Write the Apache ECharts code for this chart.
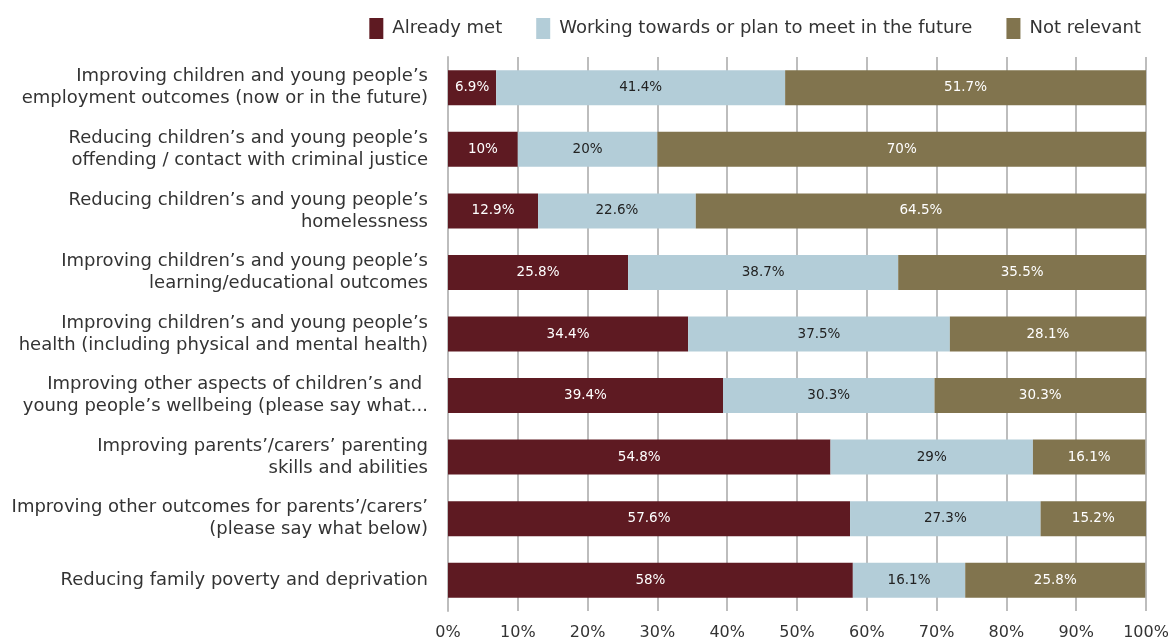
<!DOCTYPE html>
<html>
<head>
<meta charset="utf-8">
<script src="https://cdn.jsdelivr.net/npm/echarts@6/dist/echarts.min.js"></script>
<style>
  html, body { margin: 0; padding: 0; background: #ffffff; overflow: hidden; }
  #chart { width: 1168px; height: 641px; }
</style>
</head>
<body>
<div id="chart"></div>
<script>
// Outcome areas, top to bottom
const categories = [
  'Improving children and young people’s\nemployment outcomes (now or in the future)',
  'Reducing children’s and young people’s\noffending / contact with criminal justice',
  'Reducing children’s and young people’s\nhomelessness',
  'Improving children’s and young people’s\nlearning/educational outcomes',
  'Improving children’s and young people’s\nhealth (including physical and mental health)',
  'Improving other aspects of children’s and \nyoung people’s wellbeing (please say what...',
  'Improving parents’/carers’ parenting\nskills and abilities',
  'Improving other outcomes for parents’/carers’\n(please say what below)',
  'Reducing family poverty and deprivation'
];

const seriesNames = ['Already met', 'Working towards or plan to meet in the future', 'Not relevant'];

// Percentages of respondents
const alreadyMet = [6.9, 10, 12.9, 25.8, 34.4, 39.4, 54.8, 57.6, 58];
const workingTowards = [41.4, 20, 22.6, 38.7, 37.5, 30.3, 29, 27.3, 16.1];
const notRelevant = [51.7, 70, 64.5, 35.5, 28.1, 30.3, 16.1, 15.2, 25.8];

const xTicks = ['0%', '10%', '20%', '30%', '40%', '50%', '60%', '70%', '80%', '90%', '100%'];

const colors = ['#5e1a22', '#b3cdd8', '#81744e'];
const labelColors = ['#ffffff', '#222222', '#ffffff'];
const FONT = 'DejaVu Sans';

const chart = echarts.init(document.getElementById('chart'), null, { renderer: 'canvas', width: 1168, height: 641 });

function makeSeries(name, data, idx) {
  return {
    name: name,
    type: 'bar',
    stack: 'total',
    barWidth: 35,
    data: data,
    itemStyle: { color: colors[idx] },
    label: {
      show: true,
      position: 'inside',
      color: labelColors[idx],
      fontFamily: FONT,
      fontSize: 13.5,
      formatter: p => p.value + '%'
    },
    emphasis: { disabled: true }
  };
}

chart.setOption({
  animation: false,
  color: colors,
  textStyle: { fontFamily: FONT },
  legend: {
    top: 13,
    right: 22,
    itemWidth: 14,
    itemHeight: 21,
    itemGap: 34,
    icon: 'rect',
    textStyle: { fontFamily: FONT, fontSize: 18, color: '#333333', padding: [0, 0, 0, 4] },
    data: seriesNames
  },
  grid: {
    left: 448, right: 22, top: 57, bottom: 30,
    containLabel: false,
    outerBoundsMode: 'none'
  },
  xAxis: {
    type: 'value',
    min: 0,
    max: 100,
    interval: 10,
    axisLine: { show: false },
    axisTick: { show: false },
    splitLine: { show: true, lineStyle: { color: '#bdbdbd', width: 2 } },
    axisLabel: {
      fontFamily: FONT,
      fontSize: 16,
      color: '#333333',
      margin: 14,
      formatter: v => xTicks[Math.round(v / 10)]
    }
  },
  yAxis: {
    type: 'category',
    inverse: true,
    data: categories,
    axisLine: { show: true, lineStyle: { color: '#bdbdbd', width: 2 } },
    axisTick: { show: false },
    axisLabel: {
      fontFamily: FONT,
      fontSize: 18,
      color: '#333333',
      lineHeight: 22,
      margin: 20,
      align: 'right'
    }
  },
  series: [
    makeSeries(seriesNames[0], alreadyMet, 0),
    makeSeries(seriesNames[1], workingTowards, 1),
    makeSeries(seriesNames[2], notRelevant, 2)
  ]
});
</script>
</body>
</html>
